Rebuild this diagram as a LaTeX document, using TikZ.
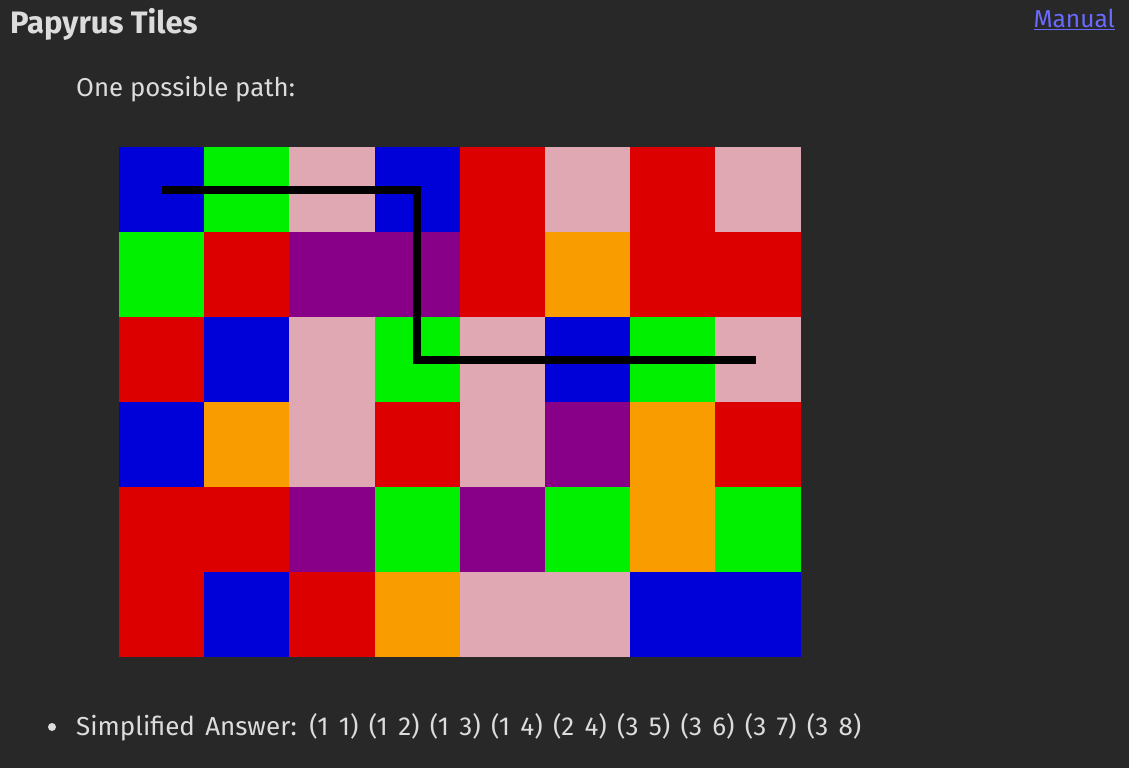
\documentclass[tikz,border=0pt]{standalone}
\usepackage{fontspec}
\setmainfont{Fira Sans}
\usetikzlibrary{positioning}
\definecolor{pagebg}{HTML}{282828}
\definecolor{pagetext}{HTML}{DCDCDC}
\definecolor{linkblue}{HTML}{6A6AFF}
\definecolor{tblue}{HTML}{0000D8}
\definecolor{tgreen}{HTML}{00F000}
\definecolor{tpink}{HTML}{E0A8B2}
\definecolor{tred}{HTML}{DC0000}
\definecolor{tpurple}{HTML}{880088}
\definecolor{torange}{HTML}{F89C00}

\begin{document}
\begin{tikzpicture}[
    x=1pt,y=-1pt,
    tile/.style  = {anchor=north west, minimum width=85.2pt, minimum height=85pt,
                    inner sep=0pt, outer sep=0pt},
    txt/.style   = {anchor=base west, inner sep=0pt, text=pagetext},
    route/.style = {black, line width=8pt, line join=miter},
  ]

  \fill[pagebg] (0,0) rectangle (1129,768);

  \node[txt,font=\bfseries\fontsize{31}{37}\selectfont] (title) at (10,34) {Papyrus Tiles};
  \node[txt,anchor=base east,text=linkblue,font=\fontsize{24.5}{29}\selectfont]
       (manual) at (1115,28) {\underline{Manual}};
  \node[txt,font=\fontsize{25.8}{30}\selectfont] (intro) at (76,96) {One possible path:};

  % tiles, row by row
  \foreach \row [count=\r] in {
      {tblue,tgreen,tpink,tblue,tred,tpink,tred,tpink},
      {tgreen,tred,tpurple,tpurple,tred,torange,tred,tred},
      {tred,tblue,tpink,tgreen,tpink,tblue,tgreen,tpink},
      {tblue,torange,tpink,tred,tpink,tpurple,torange,tred},
      {tred,tred,tpurple,tgreen,tpurple,tgreen,torange,tgreen},
      {tred,tblue,tred,torange,tpink,tpink,tblue,tblue}} {
    \foreach \col [count=\c] in \row {
      \node[tile,fill=\col] (t-\r-\c) at ({119+85.2*(\c-1)},{147+85*(\r-1)}) {};
    }
  }

  \draw[route] (t-1-1.center) -- (t-1-4.center) -- (t-3-4.center) -- ([xshift=-2pt]t-3-8.center);

  \node[circle,fill=pagetext,inner sep=0pt,minimum size=8pt] (bullet) at (52,727) {};
  \node[txt,font=\fontsize{26}{31}\selectfont] (answer) at (76,735)
       {\spaceskip=10.3pt\relax Simplified Answer: (1 1) (1 2) (1 3) (1 4) (2 4) (3 5) (3 6) (3 7) (3 8)};

\end{tikzpicture}
\end{document}
